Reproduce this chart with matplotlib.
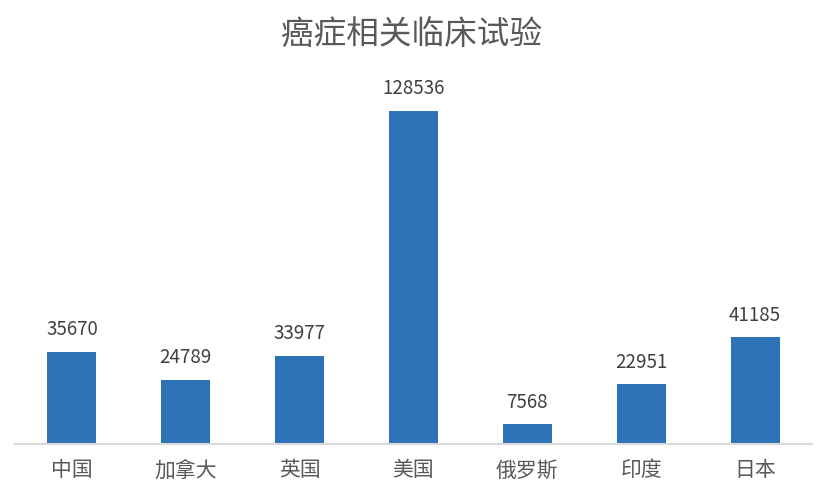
import matplotlib.pyplot as plt

plt.rcParams['font.family'] = ['Noto Sans CJK SC', 'DejaVu Sans']

countries = ['中国', '加拿大', '英国', '美国', '俄罗斯', '印度', '日本']
trials = [35670, 24789, 33977, 128536, 7568, 22951, 41185]

fig = plt.figure(figsize=(8.32, 4.92), dpi=100)
ax = fig.add_axes([15 / 832, 48 / 492, 797 / 832, 363 / 492])

bars = ax.bar(range(len(countries)), trials, width=0.43, color='#2E73B7')
for rect, v in zip(bars, trials):
    ax.annotate(str(v), (rect.get_x() + rect.get_width() / 2, v),
                xytext=(0, 12), textcoords='offset points',
                ha='center', va='baseline', fontsize=13.5, color='#404040')

ax.set_xlim(-0.5, len(countries) - 0.5)
ax.set_ylim(0, 140000)
ax.set_xticks(range(len(countries)))
ax.set_xticklabels(countries, fontsize=15, color='#595959')
ax.tick_params(axis='x', length=0, pad=11)
ax.set_yticks([])
for s in ['top', 'right', 'left']:
    ax.spines[s].set_visible(False)
ax.spines['bottom'].set_color('#D9D9D9')
ax.spines['bottom'].set_linewidth(1.5)

fig.text(0.495, 0.93, '癌症相关临床试验', ha='center', va='center',
         fontsize=23.5, color='#595959')

fig.savefig('out.png', dpi=100)
